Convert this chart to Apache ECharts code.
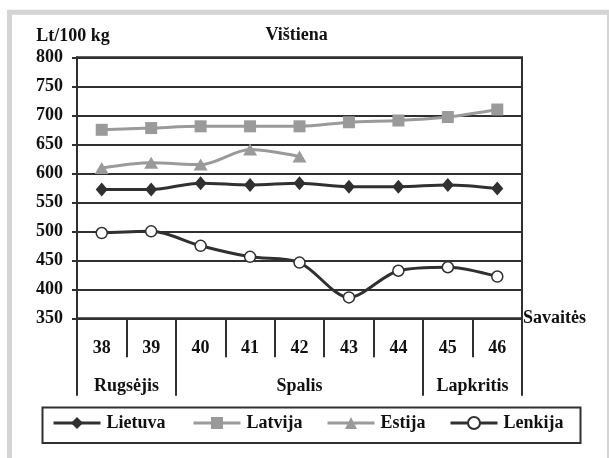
<!DOCTYPE html>
<html>
<head>
<meta charset="utf-8">
<script src="https://cdn.jsdelivr.net/npm/echarts@6/dist/echarts.min.js"></script>
<style>html,body{margin:0;padding:0;background:#fff;}#c{width:609px;height:458px;}</style>
</head>
<body>
<div id="c"></div>
<script>
var weeks = ['38','39','40','41','42','43','44','45','46'];
var lietuva = [572, 572, 583, 580, 583, 577, 577, 580, 574];
var latvija = [675, 678, 681, 681, 681, 688, 691, 697, 710];
var estija = [609, 618, 615, 641, 629, null, null, null, null];
var lenkija = [497, 500, 475, 456, 446, 386, 432, 438, 422];
var months = [
  {name: 'Rugsėjis', first: 0, last: 1},
  {name: 'Spalis', first: 2, last: 6},
  {name: 'Lapkritis', first: 7, last: 8}
];
var monthBoundaries = [0, 2, 7];
var yTicks = {min: 350, max: 800, step: 50};

var FONT = '"Liberation Serif", "Times New Roman", serif';
var FS = 18;
var DARK = '#303030';
var LIGHT = '#9a9a9a';
var TXT = '#111111';

var chart = echarts.init(document.getElementById('c'), null, {renderer: 'canvas'});

function legendAt(name, left) {
  return {
    data: [name], left: left, top: 414, padding: 0, itemWidth: 47, itemHeight: 15, itemGap: 0,
    lineStyle: {width: 3},
    textStyle: {fontFamily: FONT, fontWeight: 'bold', fontSize: FS, color: TXT, padding: [0,0,0,1]}
  };
}

var option = {
  animation: false,
  backgroundColor: '#ffffff',
  grid: {left: 77, right: 87, top: 57.3, bottom: 139.7, show: true, borderColor: DARK, borderWidth: 2, backgroundColor: 'transparent'},
  legend: [legendAt('Lietuva', 52), legendAt('Latvija', 192), legendAt('Estija', 326), legendAt('Lenkija', 449)],
  xAxis: [{
    type: 'category', data: weeks, position: 'bottom', boundaryGap: true,
    axisLine: {show: true, lineStyle: {color: DARK, width: 2}},
    axisTick: {show: true, interval: 0, length: 39, lineStyle: {color: DARK, width: 2}},
    axisLabel: {interval: 0, margin: 21, fontFamily: FONT, fontWeight: 'bold', fontSize: FS, color: TXT},
    name: 'Savaitės', nameLocation: 'end', nameGap: 1,
    nameTextStyle: {fontFamily: FONT, fontWeight: 'bold', fontSize: FS, color: TXT, align: 'left', verticalAlign: 'middle', padding: [62,0,0,0]}
  }, {
    type: 'category', data: weeks, position: 'bottom', boundaryGap: true,
    axisLine: {show: false},
    axisTick: {show: true, length: 77.5, lineStyle: {color: DARK, width: 2},
      interval: function (idx) { return monthBoundaries.indexOf(idx) >= 0; }},
    axisLabel: {show: false}
  }],
  yAxis: {
    type: 'value', min: yTicks.min, max: yTicks.max, interval: yTicks.step,
    axisLine: {show: true, lineStyle: {color: DARK, width: 2}},
    axisTick: {show: true, length: 5, lineStyle: {color: DARK, width: 2}},
    splitLine: {show: true, lineStyle: {color: DARK, width: 2}},
    axisLabel: {margin: 14, fontFamily: FONT, fontWeight: 'bold', fontSize: FS, color: TXT},
    name: 'Lt/100 kg', nameLocation: 'end', nameGap: 21,
    nameTextStyle: {fontFamily: FONT, fontWeight: 'bold', fontSize: FS, color: TXT, align: 'center', verticalAlign: 'middle', padding: [0,8,0,0]}
  },
  series: [{
    name: 'Lietuva', type: 'line', data: lietuva, smooth: 0.3, symbol: 'diamond', symbolSize: [12, 14],
    lineStyle: {color: DARK, width: 3}, itemStyle: {color: DARK, borderColor: DARK, borderWidth: 0}, z: 4
  }, {
    name: 'Latvija', type: 'line', data: latvija, smooth: 0.3, symbol: 'rect', symbolSize: 12,
    lineStyle: {color: LIGHT, width: 3}, itemStyle: {color: LIGHT, borderWidth: 0}, z: 3
  }, {
    name: 'Estija', type: 'line', data: estija, smooth: 0.3, symbol: 'triangle', symbolSize: [14, 12],
    lineStyle: {color: LIGHT, width: 3}, itemStyle: {color: LIGHT, borderWidth: 0}, z: 3
  }, {
    name: 'Lenkija', type: 'line', data: lenkija, smooth: 0.3, symbol: 'circle', symbolSize: 11,
    lineStyle: {color: DARK, width: 3}, itemStyle: {color: '#ffffff', borderColor: DARK, borderWidth: 1.5}, z: 5
  }]
};
chart.setOption(option);

var g = [
  {type: 'rect', shape: {x: 9.5, y: 12.2, width: 600, height: 470}, style: {fill: 'none', stroke: '#d4d4d4', lineWidth: 5}, z: 100, silent: true},
  {type: 'rect', shape: {x: 42.5, y: 407.5, width: 538, height: 35.5}, style: {fill: 'none', stroke: DARK, lineWidth: 2}, z: 100, silent: true},
  {type: 'text', x: 296.7, y: 35, style: {text: 'Vištiena', fontFamily: FONT, fontWeight: 'bold', fontSize: FS, fill: TXT, textAlign: 'center', textVerticalAlign: 'middle'}, z: 100}
];
months.forEach(function (m) {
  var x1 = chart.convertToPixel({xAxisIndex: 0}, weeks[m.first]);
  var x2 = chart.convertToPixel({xAxisIndex: 0}, weeks[m.last]);
  g.push({type: 'text', x: (x1 + x2) / 2, y: 386, style: {text: m.name, fontFamily: FONT, fontWeight: 'bold', fontSize: FS, fill: TXT, textAlign: 'center', textVerticalAlign: 'middle'}, z: 100});
});
chart.setOption({graphic: g});
</script>
</body>
</html>
